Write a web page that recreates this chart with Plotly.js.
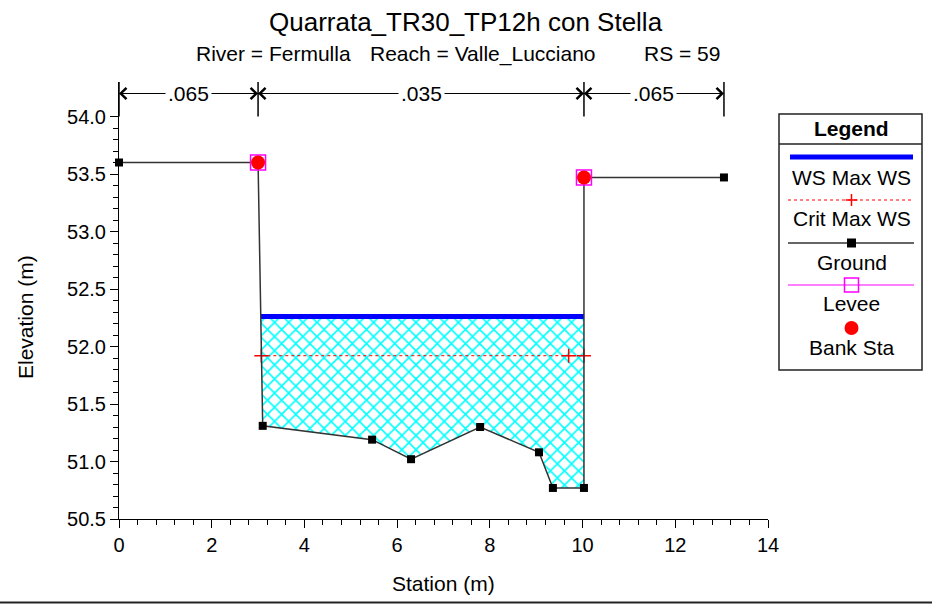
<!DOCTYPE html>
<html>
<head>
<meta charset="utf-8">
<script src="https://cdn.plot.ly/plotly-3.0.1.min.js"></script>
<style>html,body{margin:0;padding:0;background:#fff;}#chart{width:932px;height:604px;}</style>
</head>
<body>
<div id="chart"></div>
<script>
// ---- data ----
const groundStation = [0, 3.0, 3.1, 5.46, 6.30, 7.79, 9.06, 9.36, 10.03, 10.03, 13.05];
const groundElev    = [53.6, 53.6, 51.31, 51.19, 51.02, 51.30, 51.08, 50.77, 50.77, 53.47, 53.47];
const wsElev = 52.26;
const critStation = [3.07, 9.70, 10.03];
const critElev = [51.92, 51.92, 51.92];
const bankStation = [3.0, 10.03];
const bankElev = [53.6, 53.47];
const leveeStation = [3.0, 10.03];
const leveeElev = [53.6, 53.47];
const manningBreaks = [0, 3.0, 10.03, 13.05];
const manningN = ['.065', '.035', '.065'];
const xTicks = [0, 2, 4, 6, 8, 10, 12, 14];
const yTicks = [50.5, 51.0, 51.5, 52.0, 52.5, 53.0, 53.5, 54.0];

// ---- wetted area (ground below water surface, with intersections) ----
const wetX = [], wetY = [];
for (let i = 0; i < groundStation.length - 1; i++) {
  const x0 = groundStation[i], y0 = groundElev[i], x1 = groundStation[i+1], y1 = groundElev[i+1];
  if (y0 < wsElev) { wetX.push(x0); wetY.push(y0); }
  if ((y0 - wsElev) * (y1 - wsElev) < 0) {
    const t = (wsElev - y0) / (y1 - y0);
    wetX.push(x0 + t * (x1 - x0)); wetY.push(wsElev);
  }
}
const wsX = [wetX[0], wetX[wetX.length - 1]];

// ---- layout geometry ----
const W = 932, H = 604, ML = 119, MR = 164, MT = 82, MB = 85;
const PW = W - ML - MR, PH = H - MT - MB;
const px = v => (v - ML) / PW;
const py = v => (H - MB - v) / PH;
const FONT = 'Liberation Sans, Arial, Helvetica, sans-serif';

const yMinor = [];
for (let k = 0; k <= 35; k++) { const v = 50.5 + k * 0.1; if (k % 5 !== 0) yMinor.push(+v.toFixed(2)); }

const traces = [
  { x: wetX, y: wetY, mode: 'lines', fill: 'toself', line: {width: 0, color: 'rgba(0,0,0,0)'},
    fillcolor: 'white',
    fillpattern: {shape: 'x', fgcolor: '#00FFFF', bgcolor: 'white', size: 10, solidity: 0.3},
    hoverinfo: 'skip', showlegend: false },
  { x: critStation, y: critElev, mode: 'lines+markers', name: 'Crit Max WS',
    line: {color: 'red', width: 1, dash: 'dot'},
    marker: {symbol: 'cross-thin-open', size: 10, color: 'red', line: {color: 'red', width: 1.5}} },
  { x: wsX, y: [wsElev, wsElev], mode: 'lines', name: 'WS Max WS', line: {color: '#0000FF', width: 5} },
  { x: groundStation, y: groundElev, mode: 'lines+markers', name: 'Ground', cliponaxis: false,
    line: {color: '#333333', width: 1.5}, marker: {symbol: 'square', size: 8, color: 'black'} },
  { x: leveeStation, y: leveeElev, mode: 'markers', name: 'Levee',
    marker: {symbol: 'square-open', size: 15, color: '#FF00FF', line: {width: 1.5}} },
  { x: bankStation, y: bankElev, mode: 'markers', name: 'Bank Sta',
    marker: {symbol: 'circle', size: 14, color: 'red'} }
];

const shapes = [];
const annotations = [];

// Manning's n markers
manningBreaks.forEach(b => shapes.push({type: 'line', xref: 'x', yref: 'y', x0: b, x1: b, y0: 54.0, y1: 54.3, line: {color: 'black', width: 1.5}}));
shapes.push({type: 'line', xref: 'x', yref: 'y', x0: manningBreaks[0], x1: manningBreaks[manningBreaks.length-1], y0: 54.2, y1: 54.2, line: {color: 'black', width: 1}});
for (let i = 0; i < manningN.length; i++) {
  const a = manningBreaks[i], b = manningBreaks[i+1];
  annotations.push({xref: 'x', yref: 'y', x: (a + b) / 2, y: 54.2, text: manningN[i], showarrow: false,
    bgcolor: 'white', font: {family: FONT, size: 21, color: 'black'}, borderpad: 2});
  annotations.push({xref: 'x', yref: 'y', x: a, y: 54.2, ax: 16, ay: 0, text: '', showarrow: true,
    arrowhead: 4, arrowsize: 2.2, arrowwidth: 1, arrowcolor: 'black', standoff: 0});
  annotations.push({xref: 'x', yref: 'y', x: b, y: 54.2, ax: -16, ay: 0, text: '', showarrow: true,
    arrowhead: 4, arrowsize: 2.2, arrowwidth: 1, arrowcolor: 'black', standoff: 0});
}

// Titles
annotations.push({xref: 'paper', yref: 'paper', x: px(466), y: py(22), text: 'Quarrata_TR30_TP12h con Stella',
  showarrow: false, xanchor: 'center', yanchor: 'middle', font: {family: FONT, size: 26, color: 'black'}});
annotations.push({xref: 'paper', yref: 'paper', x: px(194), y: py(54), text: 'River = Fermulla',
  showarrow: false, xanchor: 'left', yanchor: 'middle', font: {family: FONT, size: 21, color: 'black'}});
annotations.push({xref: 'paper', yref: 'paper', x: px(368), y: py(54), text: 'Reach = Valle_Lucciano',
  showarrow: false, xanchor: 'left', yanchor: 'middle', font: {family: FONT, size: 21, color: 'black'}});
annotations.push({xref: 'paper', yref: 'paper', x: px(722), y: py(54), text: 'RS = 59',
  showarrow: false, xanchor: 'right', yanchor: 'middle', font: {family: FONT, size: 21, color: 'black'}});
annotations.push({xref: 'paper', yref: 'paper', x: px(443.5), y: py(583), text: 'Station (m)',
  showarrow: false, xanchor: 'center', yanchor: 'middle', font: {family: FONT, size: 21, color: 'black'}});
annotations.push({xref: 'paper', yref: 'paper', x: px(25), y: py(317), text: 'Elevation (m)', textangle: -90,
  showarrow: false, xanchor: 'center', yanchor: 'middle', font: {family: FONT, size: 21, color: 'black'}});

// Legend box (drawn)
const LX0 = 779, LX1 = 922, LC = 851.5;
shapes.push({type: 'rect', xref: 'paper', yref: 'paper', x0: px(LX0), x1: px(LX1), y0: py(114), y1: py(370), line: {color: '#222', width: 1.5}, fillcolor: 'white', layer: 'below'});
shapes.push({type: 'line', xref: 'paper', yref: 'paper', x0: px(LX0), x1: px(LX1), y0: py(144), y1: py(144), line: {color: '#222', width: 1.5}});
shapes.push({type: 'line', xref: 'paper', yref: 'paper', x0: px(790), x1: px(913), y0: py(157), y1: py(157), line: {color: '#0000FF', width: 5}});
shapes.push({type: 'line', xref: 'paper', yref: 'paper', x0: px(788), x1: px(914), y0: py(200), y1: py(200), line: {color: 'red', width: 1, dash: 'dot'}});
shapes.push({type: 'line', xref: 'paper', yref: 'paper', x0: px(LC-6), x1: px(LC+6), y0: py(200), y1: py(200), line: {color: 'red', width: 1.5}});
shapes.push({type: 'line', xref: 'paper', yref: 'paper', x0: px(LC), x1: px(LC), y0: py(194), y1: py(206), line: {color: 'red', width: 1.5}});
shapes.push({type: 'line', xref: 'paper', yref: 'paper', x0: px(788), x1: px(914), y0: py(243), y1: py(243), line: {color: '#333', width: 1.5}});
shapes.push({type: 'rect', xref: 'paper', yref: 'paper', x0: px(LC-4.5), x1: px(LC+4.5), y0: py(238.5), y1: py(247.5), line: {color: 'black', width: 0}, fillcolor: 'black'});
shapes.push({type: 'line', xref: 'paper', yref: 'paper', x0: px(788), x1: px(914), y0: py(285), y1: py(285), line: {color: '#FF00FF', width: 1}});
shapes.push({type: 'rect', xref: 'paper', yref: 'paper', x0: px(LC-7), x1: px(LC+7), y0: py(278), y1: py(292), line: {color: '#FF00FF', width: 1.5}, fillcolor: 'rgba(0,0,0,0)'});
shapes.push({type: 'circle', xref: 'paper', yref: 'paper', x0: px(LC-7), x1: px(LC+7), y0: py(321), y1: py(335), line: {color: 'red', width: 0}, fillcolor: 'red'});
const legendLabels = [['<b>Legend</b>', 128], ['WS Max WS', 177], ['Crit Max WS', 218], ['Ground', 262], ['Levee', 303], ['Bank Sta', 347]];
legendLabels.forEach(([t, y]) => annotations.push({xref: 'paper', yref: 'paper', x: px(LC), y: py(y), text: t, showarrow: false,
  xanchor: 'center', yanchor: 'middle', font: {family: FONT, size: 21, color: 'black'}}));

// bottom border line
shapes.push({type: 'line', xref: 'paper', yref: 'paper', x0: px(0), x1: px(W), y0: py(602.5), y1: py(602.5), line: {color: '#222', width: 2}});

const layout = {
  width: W, height: H,
  margin: {l: ML, r: MR, t: MT, b: MB, pad: 0},
  paper_bgcolor: 'white', plot_bgcolor: 'white',
  showlegend: false,
  font: {family: FONT, size: 20, color: 'black'},
  xaxis: {range: [0, 14], tickmode: 'array', tickvals: xTicks, ticktext: xTicks.map(String),
    ticks: 'outside', ticklen: 8, tickwidth: 1, tickcolor: 'black',
    showline: true, linecolor: 'black', linewidth: 1, showgrid: false, zeroline: false,
    tickfont: {family: FONT, size: 20, color: 'black'},
    minor: {tick0: 0, dtick: 0.4, ticks: 'outside', ticklen: 5, tickcolor: 'black', tickwidth: 1, showgrid: false}},
  yaxis: {range: [50.5, 54.3], tickmode: 'array', tickvals: yTicks, ticktext: yTicks.map(v => v.toFixed(1)),
    ticks: 'outside', ticklen: 8, tickwidth: 1, tickcolor: 'black',
    showline: true, linecolor: 'black', linewidth: 1, showgrid: false, zeroline: false,
    tickfont: {family: FONT, size: 20, color: 'black'},
    minor: {tickmode: 'array', tickvals: yMinor, ticks: 'outside', ticklen: 5, tickcolor: 'black', tickwidth: 1, showgrid: false}},
  shapes: shapes,
  annotations: annotations
};

Plotly.newPlot('chart', traces, layout, {displayModeBar: false, staticPlot: true});
</script>
</body>
</html>
